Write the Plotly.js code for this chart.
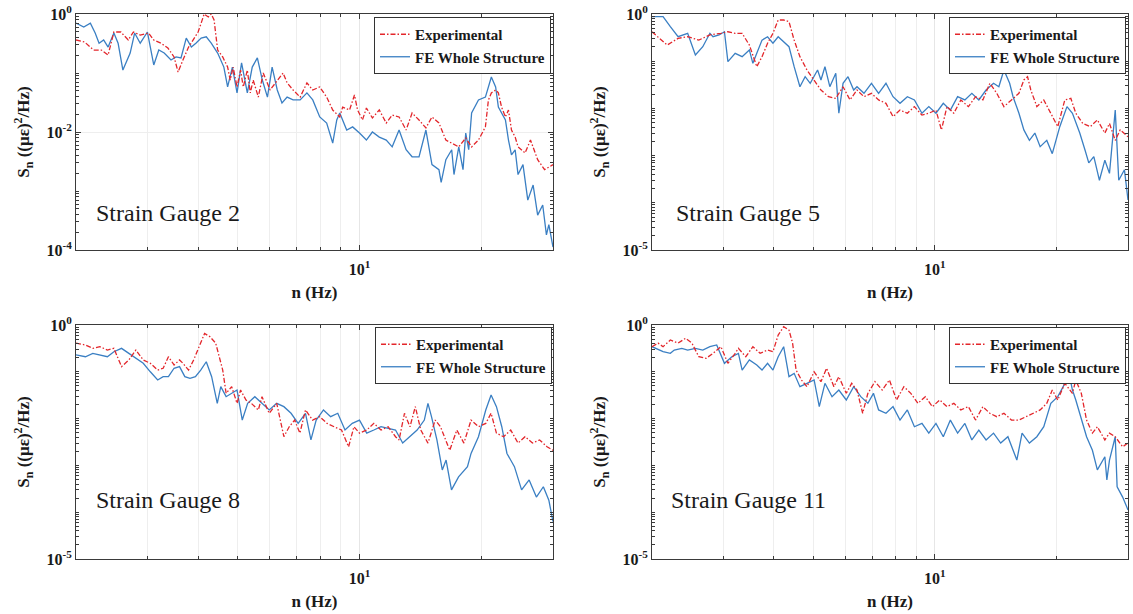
<!DOCTYPE html>
<html>
<head>
<meta charset="utf-8">
<script src="https://cdn.plot.ly/plotly-3.0.1.min.js"></script>
<style>html,body{margin:0;padding:0;background:#fff;}#chart{width:1133px;height:614px;}</style>
</head>
<body>
<div id="chart"></div>
<script>
// ---------------- data ----------------
const seriesNames = ['Experimental', 'FE Whole Structure'];
const panelLabels = ['Strain Gauge 2', 'Strain Gauge 5', 'Strain Gauge 8', 'Strain Gauge 11'];
const xTickVals = [10];
const xTickText = ['10<sup>1</sup>'];
const xMinorVals = [3, 4, 5, 6, 7, 8, 9, 20];

// Strain Gauge 2
const freqSG2Exp = [2.0,2.10,2.21,2.31,2.40,2.48,2.58,2.69,2.77,2.88,3.02,3.11,3.24,3.37,3.49,3.57,3.67,3.79,3.89,4.00,4.07,4.14,4.24,4.31,4.38,4.47,4.60,4.73,4.80,4.88,4.99,5.09,5.17,5.29,5.38,5.47,5.63,5.79,6.02,6.27,6.48,6.63,6.86,7.14,7.42,7.67,7.98,8.30,8.59,8.94,9.09,9.45,9.72,9.89,10.17,10.40,10.76,11.19,11.64,12.04,12.52,13.03,13.48,14.02,14.58,15.09,15.70,16.33,16.88,17.57,18.28,18.90,19.65,20.44,20.79,21.14,21.66,22.0,22.4,22.9,23.3,23.7,24.2,24.6,25.6,26.4,27.5,28.6,30.0];
const psdSG2Exp = [0.363,0.335,0.245,0.245,0.202,0.495,0.495,0.363,0.495,0.44,0.476,0.363,0.32,0.265,0.187,0.104,0.166,0.275,0.363,0.495,0.70,1.0,0.89,1.0,0.79,0.245,0.187,0.126,0.076,0.126,0.058,0.112,0.058,0.112,0.046,0.076,0.039,0.10,0.0515,0.076,0.10,0.068,0.0515,0.039,0.068,0.0515,0.058,0.039,0.0236,0.018,0.0265,0.0236,0.0424,0.0236,0.016,0.0255,0.0173,0.0236,0.0142,0.0194,0.018,0.0108,0.021,0.016,0.0117,0.018,0.0142,0.0073,0.0065,0.0056,0.0079,0.0056,0.0073,0.0122,0.0348,0.046,0.0515,0.046,0.0265,0.018,0.0236,0.0108,0.0082,0.0056,0.0044,0.0073,0.0034,0.0023,0.0028];
const freqSG2FE = [2.0,2.09,2.17,2.23,2.28,2.34,2.40,2.48,2.54,2.61,2.72,2.79,2.88,3.0,3.11,3.20,3.30,3.43,3.53,3.63,3.74,3.85,3.95,4.07,4.19,4.31,4.47,4.63,4.73,4.86,4.99,5.12,5.29,5.44,5.60,5.76,5.93,6.09,6.27,6.44,6.63,6.86,7.14,7.42,7.67,7.98,8.30,8.59,8.79,8.94,9.30,9.62,10.0,10.40,10.76,11.19,11.64,12.04,12.52,13.03,13.48,14.02,14.58,15.09,15.70,15.9,16.33,16.88,17.1,17.57,18.0,18.28,18.59,18.9,19.65,20.44,21.14,21.66,22.0,22.9,23.3,23.7,24.2,24.6,25.3,26.0,26.8,27.5,28.3,28.9,29.3,30.0];
const psdSG2FE = [0.70,0.60,0.70,0.476,0.32,0.363,0.275,0.476,0.32,0.112,0.218,0.476,0.32,0.495,0.137,0.245,0.218,0.166,0.187,0.18,0.39,0.275,0.32,0.39,0.41,0.32,0.218,0.126,0.058,0.126,0.046,0.148,0.046,0.126,0.18,0.076,0.039,0.126,0.0515,0.031,0.039,0.035,0.035,0.046,0.035,0.018,0.0142,0.0065,0.016,0.021,0.0108,0.0122,0.0096,0.0073,0.01,0.0082,0.0073,0.0056,0.0108,0.005,0.0038,0.0038,0.0108,0.0028,0.0023,0.0014,0.0034,0.005,0.0019,0.0056,0.0023,0.0096,0.005,0.021,0.035,0.039,0.0855,0.058,0.0265,0.016,0.0073,0.0041,0.005,0.0019,0.0028,0.0007,0.00126,0.00039,0.00058,0.00018,0.00027,0.000112];

// Strain Gauge 5
const freqSG5Exp = [2.0,2.18,2.32,2.45,2.61,2.78,2.96,3.08,3.21,3.34,3.48,3.63,3.74,3.86,3.98,4.10,4.23,4.36,4.49,4.64,4.83,5.03,5.23,5.46,5.69,5.93,6.17,6.42,6.68,6.97,7.26,7.57,7.88,8.20,8.55,8.90,9.29,9.66,10.06,10.38,10.71,11.14,11.59,12.10,12.60,13.14,13.67,14.22,14.81,15.46,16.13,16.59,16.94,17.26,17.86,18.58,19.34,20.12,20.94,21.67,22.29,23.2,24.2,25.2,26.3,27.0,27.9,28.7,30.0];
const psdSG5Exp = [0.42,0.22,0.305,0.33,0.28,0.36,0.39,0.42,0.39,0.39,0.22,0.0765,0.125,0.24,0.39,0.746,0.746,0.687,0.28,0.125,0.065,0.040,0.0245,0.0177,0.0163,0.0288,0.0151,0.0245,0.0177,0.0209,0.0151,0.0128,0.0067,0.0092,0.0079,0.0109,0.0072,0.0079,0.0092,0.0035,0.0109,0.0079,0.0151,0.0109,0.0177,0.0151,0.034,0.0209,0.0109,0.0151,0.0209,0.040,0.047,0.0245,0.0109,0.0151,0.0079,0.0041,0.0151,0.0163,0.0079,0.0048,0.0041,0.0057,0.003,0.0048,0.0021,0.0035,0.0025];
const freqSG5FE = [2.0,2.13,2.22,2.32,2.45,2.56,2.67,2.78,2.83,2.93,3.02,3.08,3.21,3.34,3.48,3.55,3.63,3.74,3.86,3.98,4.10,4.23,4.36,4.49,4.64,4.78,4.92,5.13,5.23,5.35,5.50,5.69,5.79,5.93,6.10,6.30,6.42,6.68,6.97,7.26,7.57,7.88,8.20,8.55,8.90,9.29,9.66,10.06,10.49,10.92,11.38,11.86,12.34,12.84,13.38,13.96,14.39,14.81,15.30,15.60,16.13,16.59,17.12,17.66,18.2,18.9,19.5,20.35,21.2,21.87,22.8,23.5,24.0,24.7,25.5,26.3,27.0,27.9,28.46,29.4,30.0];
const psdSG5FE = [0.877,0.877,0.54,0.33,0.39,0.135,0.203,0.39,0.33,0.36,0.42,0.098,0.147,0.125,0.173,0.090,0.147,0.28,0.33,0.24,0.33,0.26,0.203,0.0765,0.0288,0.047,0.034,0.065,0.040,0.0765,0.0288,0.0553,0.0079,0.034,0.047,0.0245,0.0288,0.0209,0.034,0.0209,0.034,0.0177,0.0128,0.0177,0.0151,0.0079,0.0109,0.0079,0.0128,0.0092,0.0177,0.0151,0.0209,0.0151,0.0245,0.034,0.0288,0.065,0.034,0.0177,0.0079,0.0035,0.0021,0.003,0.00155,0.0021,0.0011,0.0041,0.0109,0.0079,0.003,0.0013,0.0007,0.00095,0.0003,0.0008,0.00042,0.0092,0.0003,0.0005,0.000115];

// Strain Gauge 8
const freqSG8Exp = [2.0,2.11,2.20,2.29,2.39,2.48,2.59,2.70,2.81,2.93,3.05,3.18,3.28,3.38,3.49,3.60,3.67,3.79,3.90,4.02,4.15,4.28,4.42,4.51,4.60,4.69,4.84,4.99,5.09,5.25,5.41,5.63,5.75,5.99,6.25,6.51,6.71,6.92,7.13,7.36,7.66,7.98,8.32,8.66,9.03,9.40,9.69,10.0,10.42,10.85,11.30,11.77,12.27,12.52,12.91,13.32,13.73,14.16,14.75,15.37,15.84,16.69,17.38,18.09,18.84,19.65,20.48,21.11,21.76,22.66,23.6,24.6,25.6,26.7,27.8,29.0,30.0];
const psdSG8Exp = [0.41,0.374,0.317,0.344,0.292,0.317,0.129,0.179,0.292,0.179,0.152,0.109,0.119,0.21,0.14,0.179,0.152,0.109,0.179,0.344,0.66,0.56,0.41,0.21,0.109,0.0347,0.0481,0.0212,0.0408,0.025,0.0212,0.0153,0.0294,0.013,0.0212,0.0041,0.0067,0.0093,0.0049,0.0153,0.0093,0.011,0.0079,0.0067,0.0057,0.0025,0.0067,0.0049,0.0057,0.0079,0.0057,0.0067,0.0041,0.0035,0.013,0.0067,0.018,0.0057,0.003,0.0093,0.0067,0.0021,0.0057,0.003,0.0093,0.0067,0.0079,0.013,0.0049,0.0041,0.0057,0.003,0.0041,0.003,0.0035,0.0025,0.0021];
const freqSG8FE = [2.0,2.11,2.20,2.29,2.39,2.48,2.59,2.70,2.81,2.93,3.05,3.18,3.28,3.38,3.49,3.60,3.71,3.82,3.94,4.06,4.19,4.32,4.46,4.55,4.69,4.84,4.99,5.14,5.30,5.52,5.75,5.99,6.25,6.51,6.78,7.06,7.36,7.59,7.82,8.15,8.49,8.84,9.21,9.60,10.0,10.42,10.85,11.30,11.77,12.27,12.78,13.32,13.87,14.45,14.75,15.05,15.52,16.0,16.35,16.86,17.55,18.46,18.84,19.65,20.48,21.11,21.76,22.43,23.1,24.1,25.1,26.2,27.3,28.4,29.3,30.0];
const psdSG8FE = [0.229,0.21,0.248,0.229,0.21,0.269,0.317,0.248,0.194,0.152,0.10,0.0668,0.0787,0.0787,0.119,0.129,0.0787,0.0725,0.0787,0.109,0.164,0.0787,0.0212,0.0481,0.0294,0.0347,0.0408,0.0093,0.0212,0.0294,0.0212,0.0153,0.0212,0.018,0.013,0.0079,0.013,0.0035,0.0093,0.0153,0.011,0.013,0.0057,0.0079,0.0093,0.0049,0.0057,0.0067,0.0062,0.0057,0.003,0.0041,0.0057,0.0093,0.0212,0.011,0.0035,0.0008,0.0013,0.0003,0.00057,0.00094,0.0018,0.0041,0.0153,0.0319,0.018,0.0067,0.0018,0.00094,0.0003,0.00049,0.00021,0.00035,0.00018,0.000063];

// Strain Gauge 11
const freqSG11Exp = [2.0,2.07,2.13,2.22,2.32,2.42,2.51,2.61,2.72,2.83,2.96,3.08,3.21,3.27,3.41,3.55,3.70,3.86,3.98,4.10,4.23,4.36,4.45,4.54,4.68,4.83,5.03,5.23,5.40,5.63,5.79,6.04,6.23,6.42,6.63,6.83,7.11,7.41,7.72,8.04,8.38,8.72,9.08,9.47,9.86,10.28,10.71,11.14,11.59,12.10,12.60,13.14,13.67,14.22,14.81,15.46,16.13,16.77,17.47,18.2,18.9,19.5,20.12,20.94,21.87,22.29,23.0,23.7,24.5,25.2,26.3,27.0,27.9,29.1,30.0];
const psdSG11Exp = [0.344,0.41,0.344,0.478,0.41,0.52,0.41,0.21,0.194,0.248,0.344,0.152,0.248,0.317,0.21,0.344,0.248,0.292,0.269,0.61,0.92,0.78,0.41,0.109,0.0668,0.0481,0.10,0.0616,0.119,0.0481,0.0787,0.0347,0.0568,0.0408,0.013,0.0347,0.0616,0.0408,0.0668,0.025,0.0481,0.0347,0.0212,0.0294,0.018,0.025,0.018,0.0212,0.0153,0.018,0.0093,0.018,0.013,0.011,0.013,0.0093,0.0093,0.011,0.013,0.0153,0.0212,0.0408,0.025,0.0568,0.0347,0.0668,0.0347,0.0093,0.0049,0.0067,0.0035,0.0049,0.0041,0.0025,0.003];
const freqSG11FE = [2.0,2.13,2.22,2.27,2.37,2.45,2.56,2.67,2.78,2.89,3.02,3.15,3.27,3.34,3.48,3.63,3.74,3.86,3.98,4.10,4.23,4.36,4.49,4.64,4.83,5.03,5.18,5.35,5.57,5.79,6.04,6.30,6.56,6.83,7.05,7.26,7.57,7.88,8.20,8.55,8.90,9.29,9.66,10.06,10.49,10.92,11.38,11.86,12.34,12.84,13.38,13.96,14.54,15.15,15.94,16.42,17.12,17.86,18.58,19.34,20.12,20.75,21.45,21.87,22.29,23.0,23.7,24.5,25.2,26.3,26.6,27.0,27.9,28.2,29.1,30.0];
const psdSG11FE = [0.344,0.269,0.248,0.292,0.317,0.292,0.317,0.292,0.344,0.374,0.152,0.21,0.248,0.109,0.179,0.14,0.109,0.152,0.109,0.21,0.344,0.0787,0.0927,0.0481,0.0568,0.0668,0.018,0.0568,0.0294,0.0408,0.025,0.0481,0.0294,0.0212,0.0347,0.0153,0.013,0.018,0.0093,0.0153,0.0067,0.0079,0.0049,0.0079,0.0041,0.0093,0.0049,0.0079,0.0035,0.0057,0.0035,0.0049,0.003,0.0041,0.0013,0.0049,0.003,0.0041,0.0067,0.0212,0.0294,0.0481,0.0927,0.0408,0.025,0.0093,0.0041,0.0021,0.0008,0.00153,0.00049,0.0013,0.0041,0.00035,0.00021,0.000112];

// ---------------- chart ----------------
const SERIF = '"Liberation Serif", "Times New Roman", Times, serif';
const INK = '#1a1a1a';
const AXC = '#3a3a3a';
const RED = '#e3262b';
const BLUE = '#3a7fc3';

const panels = [
  {exp:[freqSG2Exp, psdSG2Exp], fe:[freqSG2FE, psdSG2FE], yMinExp:-4, yLabelled:[-4, -2, 0]},
  {exp:[freqSG5Exp, psdSG5Exp], fe:[freqSG5FE, psdSG5FE], yMinExp:-5, yLabelled:[-5, 0]},
  {exp:[freqSG8Exp, psdSG8Exp], fe:[freqSG8FE, psdSG8FE], yMinExp:-5, yLabelled:[-5, 0]},
  {exp:[freqSG11Exp, psdSG11Exp], fe:[freqSG11FE, psdSG11FE], yMinExp:-5, yLabelled:[-5, 0]}
];

const W = 1133, H = 614;
const colX = [[76/W, 553/W], [652/W, 1128/W]];
const rowY = [[(H-250)/H, (H-14)/H], [(H-559)/H, (H-325)/H]];
const labelPos = [[94, 213], [674, 213], [94, 500], [669, 500]];
const legendPos = [[551, 17], [1126, 17], [552, 327], [1126, 327]];

const traces = [];
const layout = {
  width: W, height: H,
  margin: {l:0, r:0, t:0, b:0},
  paper_bgcolor: '#fff', plot_bgcolor: '#fff',
  showlegend: true, hovermode: false,
  annotations: []
};

panels.forEach((p, i) => {
  const n = i + 1;
  const sfx = n === 1 ? '' : String(n);
  const xa = 'x' + sfx, ya = 'y' + sfx;
  const lg = 'legend' + sfx;
  const col = i % 2, row = Math.floor(i / 2);

  traces.push({
    x: p.fe[0], y: p.fe[1], xaxis: xa, yaxis: ya, type: 'scatter', mode: 'lines',
    name: seriesNames[1], legend: lg, legendrank: 2,
    line: {color: BLUE, width: 1.3}
  });
  traces.push({
    x: p.exp[0], y: p.exp[1], xaxis: xa, yaxis: ya, type: 'scatter', mode: 'lines',
    name: seriesNames[0], legend: lg, legendrank: 1,
    line: {color: RED, width: 1.3, dash: '5px,2px,1.5px,2px'}
  });

  // labelled decades are major ticks; the other decades and 2..9 multiples are minor ticks
  const yVals = [], yText = [], yMinor = [];
  for (let e = p.yMinExp; e <= 0; e++) {
    if (p.yLabelled.indexOf(e) >= 0) { yVals.push(Math.pow(10, e)); yText.push('10<sup>' + e + '</sup>'); }
    else yMinor.push(Math.pow(10, e));
    if (e < 0) for (let m = 2; m <= 9; m++) yMinor.push(m * Math.pow(10, e));
  }

  layout['xaxis' + sfx] = {
    type: 'log', domain: colX[col], anchor: ya,
    range: [Math.log10(2), Math.log10(30)],
    showline: true, linecolor: AXC, linewidth: 1, mirror: 'ticks',
    ticks: 'inside', ticklen: 5, tickcolor: AXC,
    tickvals: xTickVals, ticktext: xTickText, ticklabelstandoff: 5,
    tickfont: {family: SERIF, size: 16, color: INK, weight: 'bold'},
    showgrid: true, gridcolor: '#e6e6e6', gridwidth: 1, zeroline: false,
    minor: {tickvals: xMinorVals, ticks: 'inside', ticklen: 3, tickcolor: AXC, showgrid: true, gridcolor: '#eeeeee', gridwidth: 1},
    title: {text: 'n (Hz)', font: {family: SERIF, size: 17, color: INK, weight: 'bold'}, standoff: 8}
  };
  layout['yaxis' + sfx] = {
    type: 'log', domain: rowY[row], anchor: xa,
    range: [p.yMinExp, 0],
    showline: true, linecolor: AXC, linewidth: 1, mirror: 'ticks',
    ticks: 'inside', ticklen: 5, tickcolor: AXC,
    tickvals: yVals, ticktext: yText,
    tickfont: {family: SERIF, size: 16, color: INK, weight: 'bold'},
    showgrid: true, gridcolor: '#eeeeee', gridwidth: 1, zeroline: false,
    minor: {tickvals: yMinor, ticks: 'inside', ticklen: 3, tickcolor: AXC, showgrid: false},
    title: {text: 'S<sub>n</sub> ((\u03bc\u03b5)<sup>2</sup>/Hz)', font: {family: SERIF, size: 17, color: INK, weight: 'bold'}, standoff: 12}
  };
  layout[lg] = {
    x: legendPos[i][0] / W, y: (H - legendPos[i][1]) / H,
    xref: 'paper', yref: 'paper', xanchor: 'right', yanchor: 'top',
    bgcolor: '#ffffff', bordercolor: '#333333', borderwidth: 1,
    font: {family: SERIF, size: 15, color: INK, weight: 'bold'},
    tracegroupgap: 0, itemwidth: 30
  };
  layout.annotations.push({
    xref: 'paper', yref: 'paper', x: labelPos[i][0] / W, y: (H - labelPos[i][1]) / H,
    xanchor: 'left', yanchor: 'middle', showarrow: false,
    text: panelLabels[i], font: {family: SERIF, size: 24, color: INK}
  });
});

Plotly.newPlot('chart', traces, layout, {displayModeBar: false, staticPlot: true});
</script>
</body>
</html>
